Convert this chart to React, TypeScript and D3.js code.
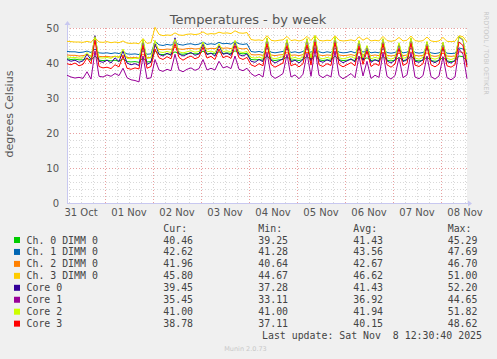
import React from "react";
import * as d3 from "d3";

const seriesNames = ["Ch. 0 DIMM 0", "Ch. 1 DIMM 0", "Ch. 2 DIMM 0", "Ch. 3 DIMM 0", "Core 0", "Core 1", "Core 2", "Core 3"];
const seriesColors = ["#00CC00", "#0066B3", "#FF8000", "#FFCC00", "#330099", "#990099", "#CCFF00", "#FF0000"];
const curValues = ["40.46", "42.62", "41.96", "45.80", "39.45", "35.45", "41.00", "38.78"];
const minValues = ["39.25", "41.28", "40.64", "44.67", "37.28", "33.11", "41.00", "37.11"];
const avgValues = ["41.43", "43.56", "42.67", "46.62", "41.43", "36.92", "41.94", "40.15"];
const maxValues = ["45.29", "47.69", "46.70", "51.00", "52.20", "44.65", "51.82", "48.62"];
const yTicks = [0, 10, 20, 30, 40, 50];

// one sample every 2 hours starting 2025-10-31 05:00 UTC
const ch0 = [
  41.2, 41.0, 41.1, 40.9, 40.9, 41.3, 40.8, 42.0, 40.8, 40.7,
  40.8, 40.6, 40.8, 40.5, 41.2, 40.4, 40.3, 40.4, 40.2, 41.5,
  40.3, 40.4, 43.5, 42.5, 42.4, 42.6, 42.5, 43.2, 42.6, 42.5,
  42.7, 42.8, 42.6, 42.7, 43.4, 42.6, 42.8, 42.6, 43.2, 42.7,
  42.9, 42.7, 43.5, 42.8, 42.6, 42.8, 41.0, 40.9, 41.0, 40.8,
  42.0, 40.9, 40.7, 40.9, 41.0, 41.8, 40.8, 40.9, 40.7, 41.0,
  41.9, 40.8, 42.2, 40.9, 40.7, 40.9, 40.8, 42.0, 40.9, 40.7,
  40.8, 41.0, 40.7, 41.8, 40.9, 41.5, 40.7, 40.9, 40.7, 41.9,
  40.8, 40.6, 40.8, 41.6, 40.7, 40.9, 42.0, 40.8, 40.6, 40.8,
  41.7, 40.7, 40.5, 40.7, 41.6, 40.6, 40.4, 40.6, 42.0, 41.8,
  40.5,
];
const ch1 = [
  43.3, 43.2, 43.2, 43.0, 43.1, 43.4, 43.0, 44.0, 42.9, 42.8,
  42.9, 42.7, 42.9, 42.7, 43.2, 42.6, 42.5, 42.6, 42.4, 43.5,
  42.5, 42.6, 46.2, 45.2, 45.0, 45.3, 45.1, 45.8, 45.3, 45.1,
  45.4, 45.5, 45.2, 45.4, 46.0, 45.3, 45.5, 45.3, 45.9, 45.5,
  45.6, 45.4, 46.2, 45.5, 45.3, 45.5, 43.3, 43.1, 43.3, 43.0,
  44.2, 43.1, 42.9, 43.1, 43.3, 44.0, 43.0, 43.2, 42.9, 43.3,
  44.1, 43.0, 44.4, 43.2, 42.9, 43.2, 43.0, 44.2, 43.1, 42.9,
  43.0, 43.3, 42.9, 44.0, 43.1, 43.7, 42.9, 43.1, 42.9, 44.1,
  43.0, 42.8, 43.0, 43.8, 42.9, 43.1, 44.2, 43.0, 42.8, 43.0,
  43.9, 42.9, 42.7, 42.9, 43.8, 42.8, 42.7, 42.8, 44.3, 44.0,
  42.6,
];
const ch2 = [
  42.3, 42.2, 42.2, 42.0, 42.1, 42.4, 42.0, 43.0, 41.9, 41.8,
  41.9, 41.7, 41.9, 41.7, 42.2, 41.6, 41.5, 41.6, 41.4, 42.5,
  41.5, 41.6, 44.8, 43.9, 43.8, 44.0, 43.9, 44.5, 44.0, 43.9,
  44.1, 44.2, 44.0, 44.1, 44.7, 44.0, 44.2, 44.1, 44.6, 44.2,
  44.3, 44.1, 44.8, 44.2, 44.0, 44.2, 42.4, 42.3, 42.4, 42.2,
  43.2, 42.3, 42.1, 42.3, 42.4, 43.0, 42.2, 42.3, 42.1, 42.4,
  43.1, 42.2, 43.4, 42.3, 42.1, 42.3, 42.2, 43.2, 42.3, 42.1,
  42.2, 42.4, 42.1, 43.0, 42.3, 42.8, 42.1, 42.3, 42.1, 43.1,
  42.2, 42.0, 42.2, 42.8, 42.1, 42.3, 43.2, 42.2, 42.0, 42.2,
  42.9, 42.1, 41.9, 42.1, 42.8, 42.0, 41.9, 42.0, 43.2, 43.0,
  42.0,
];
const ch3 = [
  46.2, 46.1, 46.0, 46.0, 45.9, 46.2, 45.9, 47.2, 46.0, 45.9,
  46.1, 45.8, 46.0, 45.8, 46.3, 45.7, 45.6, 45.7, 45.5, 47.0,
  45.6, 45.8, 50.2, 48.2, 47.8, 48.0, 47.9, 48.6, 48.0, 47.9,
  48.2, 48.3, 48.1, 48.3, 48.9, 48.2, 48.4, 48.3, 48.8, 48.5,
  48.6, 48.4, 49.2, 48.6, 48.5, 48.7, 46.7, 46.5, 46.6, 46.4,
  47.8, 46.5, 46.3, 46.5, 46.6, 47.6, 46.4, 46.6, 46.3, 46.6,
  47.6, 46.4, 47.9, 46.5, 46.3, 46.5, 46.4, 47.8, 46.5, 46.3,
  46.4, 46.6, 46.3, 47.5, 46.5, 47.2, 46.3, 46.5, 46.3, 47.6,
  46.4, 46.2, 46.4, 47.3, 46.3, 46.5, 47.7, 46.4, 46.2, 46.4,
  47.4, 46.3, 46.1, 46.3, 47.3, 46.2, 46.1, 46.2, 47.8, 47.5,
  46.0,
];
const core0 = [
  41.0, 40.5, 40.8, 40.2, 40.6, 42.5, 41.0, 47.8, 40.5, 40.2,
  40.8, 40.0, 41.5, 40.4, 43.5, 40.0, 39.5, 39.8, 39.3, 46.5,
  39.6, 40.2, 45.5, 42.5, 42.0, 42.8, 42.2, 47.2, 42.6, 42.0,
  42.5, 43.0, 42.2, 42.6, 45.5, 42.4, 42.8, 42.0, 45.0, 42.5,
  42.8, 42.2, 46.0, 42.4, 42.0, 42.6, 40.5, 40.2, 41.0, 40.4,
  47.0, 40.8, 40.0, 40.6, 41.2, 46.5, 40.3, 40.8, 40.0, 41.0,
  46.8, 40.5, 47.5, 40.6, 40.2, 40.9, 40.4, 47.2, 40.8, 40.1,
  40.6, 41.2, 40.3, 46.2, 40.7, 44.8, 40.2, 40.9, 40.4, 46.8,
  40.6, 40.0, 40.8, 45.5, 40.4, 41.0, 47.0, 40.5, 40.2, 40.9,
  46.0, 40.6, 40.1, 40.8, 45.8, 40.4, 40.0, 40.7, 47.5, 46.5,
  39.5,
];
const core1 = [
  36.5, 36.0, 35.7, 35.9, 35.6, 37.5, 35.4, 43.5, 36.2, 36.0,
  36.6, 36.2, 37.0, 36.4, 38.5, 35.8, 35.2, 35.0, 34.6, 42.0,
  35.5, 35.8, 41.0, 38.0, 37.6, 38.2, 37.8, 42.5, 38.0, 37.5,
  38.2, 38.6, 37.9, 38.4, 41.0, 38.0, 38.5, 38.0, 40.5, 38.6,
  39.0, 38.4, 42.0, 38.2, 37.8, 38.5, 37.0, 36.2, 36.8, 36.0,
  43.0, 36.5, 35.6, 36.2, 37.0, 42.5, 36.0, 36.6, 35.5, 36.8,
  42.8, 36.2, 44.0, 36.5, 35.8, 36.6, 36.0, 43.5, 36.4, 35.5,
  36.2, 37.0, 35.8, 42.0, 36.3, 40.5, 35.6, 36.5, 35.9, 43.0,
  36.2, 35.4, 36.4, 41.5, 35.8, 36.6, 43.0, 36.0, 35.5, 36.4,
  42.0, 36.1, 35.4, 36.3, 41.8, 35.8, 35.2, 36.0, 44.0, 42.5,
  35.5,
];
const core2 = [
  41.8, 41.5, 41.6, 41.4, 41.5, 43.0, 41.6, 47.5, 41.5, 41.4,
  41.6, 41.3, 42.0, 41.5, 44.0, 41.3, 41.2, 41.4, 41.2, 46.8,
  41.3, 41.5, 46.5, 43.2, 43.0, 43.3, 43.0, 46.8, 43.2, 42.9,
  43.2, 43.5, 43.1, 43.3, 46.0, 43.2, 43.4, 43.0, 45.5, 43.2,
  43.5, 43.1, 46.5, 43.2, 43.0, 43.3, 41.6, 41.4, 41.7, 41.3,
  47.2, 41.5, 41.2, 41.5, 41.8, 46.8, 41.3, 41.6, 41.2, 41.7,
  47.0, 41.4, 47.8, 41.5, 41.2, 41.6, 41.3, 47.5, 41.5, 41.2,
  41.5, 41.8, 41.3, 46.5, 41.5, 45.0, 41.2, 41.6, 41.3, 47.0,
  41.5, 41.1, 41.6, 45.8, 41.3, 41.7, 47.2, 41.4, 41.1, 41.6,
  46.2, 41.4, 41.1, 41.5, 46.0, 41.3, 41.0, 41.4, 47.6, 46.8,
  41.0,
];
const core3 = [
  39.8, 39.5, 40.0, 39.2, 39.6, 41.5, 39.8, 46.5, 39.0, 38.6,
  38.8, 38.4, 39.5, 38.9, 42.0, 38.5, 38.2, 38.6, 38.3, 45.0,
  38.5, 39.0, 44.0, 41.5, 41.0, 41.8, 41.2, 45.5, 41.6, 40.8,
  41.5, 42.0, 41.2, 41.7, 44.5, 41.4, 41.9, 41.0, 44.0, 41.5,
  42.0, 41.3, 45.0, 41.5, 41.0, 41.6, 39.5, 39.0, 39.8, 39.2,
  45.5, 39.6, 38.8, 39.4, 40.0, 45.0, 39.2, 39.7, 38.9, 39.8,
  45.2, 39.4, 46.0, 39.5, 39.0, 39.8, 39.3, 45.8, 39.6, 38.9,
  39.5, 40.1, 39.2, 44.8, 39.6, 43.5, 39.0, 39.8, 39.3, 45.5,
  39.5, 38.8, 39.7, 44.2, 39.3, 39.9, 45.6, 39.4, 39.0, 39.8,
  44.8, 39.5, 38.9, 39.7, 44.5, 39.2, 38.8, 39.5, 46.0, 45.0,
  38.8,
];
const seriesValues = [ch0, ch1, ch2, ch3, core0, core1, core2, core3];

const START = Date.UTC(2025, 9, 31, 5);
const END = Date.UTC(2025, 10, 8, 13);
const STEP = 2 * 3600 * 1000;

export default function App() {
  const W = 497, H = 359;
  const left = 67, right = 467, top = 28, bottom = 203;
  const x = d3.scaleUtc().domain([new Date(START), new Date(END)]).range([left, right]);
  const y = d3.scaleLinear().domain([0, 50]).range([bottom, top]);

  const line = d3.line<number>()
    .x((_, i) => x(new Date(START + i * STEP)))
    .y((v) => y(v));

  const minorY = d3.range(0, 51, 2).filter((v) => v % 10 !== 0);
  const days = d3.utcDay.range(new Date(START), new Date(END));
  const sixH = d3.utcHour.every(6)!.range(new Date(START), new Date(END)).filter((d) => d.getUTCHours() !== 0);
  const noons = d3.utcHour.every(12)!.range(new Date(START), new Date(END + 1)).filter((d) => d.getUTCHours() === 12);
  const fmt = d3.utcFormat("%d %b");

  const mono = "'DejaVu Sans Mono', monospace";
  const sans = "'DejaVu Sans', sans-serif";
  const rowY = (i: number) => 240 + i * 11.95;
  const cols = [163.3, 258.3, 353.3, 447.7];

  return (
    <svg width={W} height={H} style={{ position: "absolute", left: 0, top: 0 }} fontFamily={sans}>
      <rect x={0} y={0} width={W} height={H} fill="#F0F0F0" />
      <rect x={left} y={top} width={right - left} height={bottom - top} fill="#FFFFFF" />
      {/* minor grid */}
      {minorY.map((v) => (
        <line key={"my" + v} x1={left} x2={right} y1={y(v) + 0.5} y2={y(v) + 0.5} stroke="#D8D8D8" strokeDasharray="1,2" />
      ))}
      {sixH.map((d) => (
        <line key={"mx" + d.getTime()} x1={Math.round(x(d)) + 0.5} x2={Math.round(x(d)) + 0.5} y1={top} y2={bottom} stroke="#D8D8D8" strokeDasharray="1,2" />
      ))}
      {/* major grid */}
      {yTicks.filter((v) => v > 0).map((v) => (
        <line key={"My" + v} x1={left} x2={right} y1={y(v) + 0.5} y2={y(v) + 0.5} stroke="#E8A0A0" strokeDasharray="1,2" />
      ))}
      {days.map((d) => (
        <line key={"Mx" + d.getTime()} x1={Math.round(x(d)) + 0.5} x2={Math.round(x(d)) + 0.5} y1={top} y2={bottom} stroke="#E8A0A0" strokeDasharray="1,2" />
      ))}
      {/* axes */}
      <line x1={left} x2={right + 2} y1={bottom + 0.5} y2={bottom + 0.5} stroke="#C8C8F0" />
      <path d={`M${right + 1},${bottom - 2.5} L${right + 5},${bottom + 0.5} L${right + 1},${bottom + 3.5} Z`} fill="#C8C8F0" />
      <line x1={left + 0.5} x2={left + 0.5} y1={bottom} y2={top - 4} stroke="#C8C8F0" />
      <path d={`M${left - 2.5},${top - 3} L${left + 0.5},${top - 7} L${left + 3.5},${top - 3} Z`} fill="#C8C8F0" />
      {/* series */}
      {seriesValues.map((vals, k) => (
        <path key={"s" + k} d={line(vals) || ""} fill="none" stroke={seriesColors[k]} strokeWidth={1} />
      ))}
      {/* y tick labels */}
      {yTicks.map((v) => (
        <text key={"yt" + v} x={59} y={y(v) + 4} textAnchor="end" fontSize={10} fill="#555">{v}</text>
      ))}
      {/* x tick labels */}
      {noons.map((d) => (
        <text key={"xt" + d.getTime()} x={x(d)} y={216} textAnchor="middle" fontSize={10} fill="#555">{fmt(d)}</text>
      ))}
      <text x={248} y={24} textAnchor="middle" fontSize={13} fill="#555">Temperatures - by week</text>
      <text transform="translate(13,114) rotate(-90)" textAnchor="middle" fontSize={11} fill="#555">degrees Celsius</text>
      <text transform="translate(484,53) rotate(90)" textAnchor="middle" fontSize={6.5} fill="#C8C8C8">RRDTOOL / TOBI OETIKER</text>
      {/* legend */}
      {["Cur:", "Min:", "Avg:", "Max:"].map((h, j) => (
        <text key={"h" + j} x={cols[j]} y={231.5} fontFamily={mono} fontSize={9.9} fill="#444">{h}</text>
      ))}
      {seriesNames.map((name, i) => (
        <g key={"lg" + i}>
          <rect x={14} y={rowY(i) - 3} width={6} height={6} fill={seriesColors[i]} />
          <text x={26.5} y={rowY(i) + 3.5} fontFamily={mono} fontSize={9.9} fill="#444">{name}</text>
          {[curValues[i], minValues[i], avgValues[i], maxValues[i]].map((v, j) => (
            <text key={j} x={cols[j]} y={rowY(i) + 3.5} fontFamily={mono} fontSize={9.9} fill="#444">{v}</text>
          ))}
        </g>
      ))}
      <text x={262} y={339} fontFamily={mono} fontSize={9.9} fill="#444" style={{ whiteSpace: "pre" }}>{"Last update: Sat Nov  8 12:30:40 2025"}</text>
      <text x={245.5} y={351} textAnchor="middle" fontSize={6.5} fill="#C8C8C8">Munin 2.0.73</text>
    </svg>
  );
}
